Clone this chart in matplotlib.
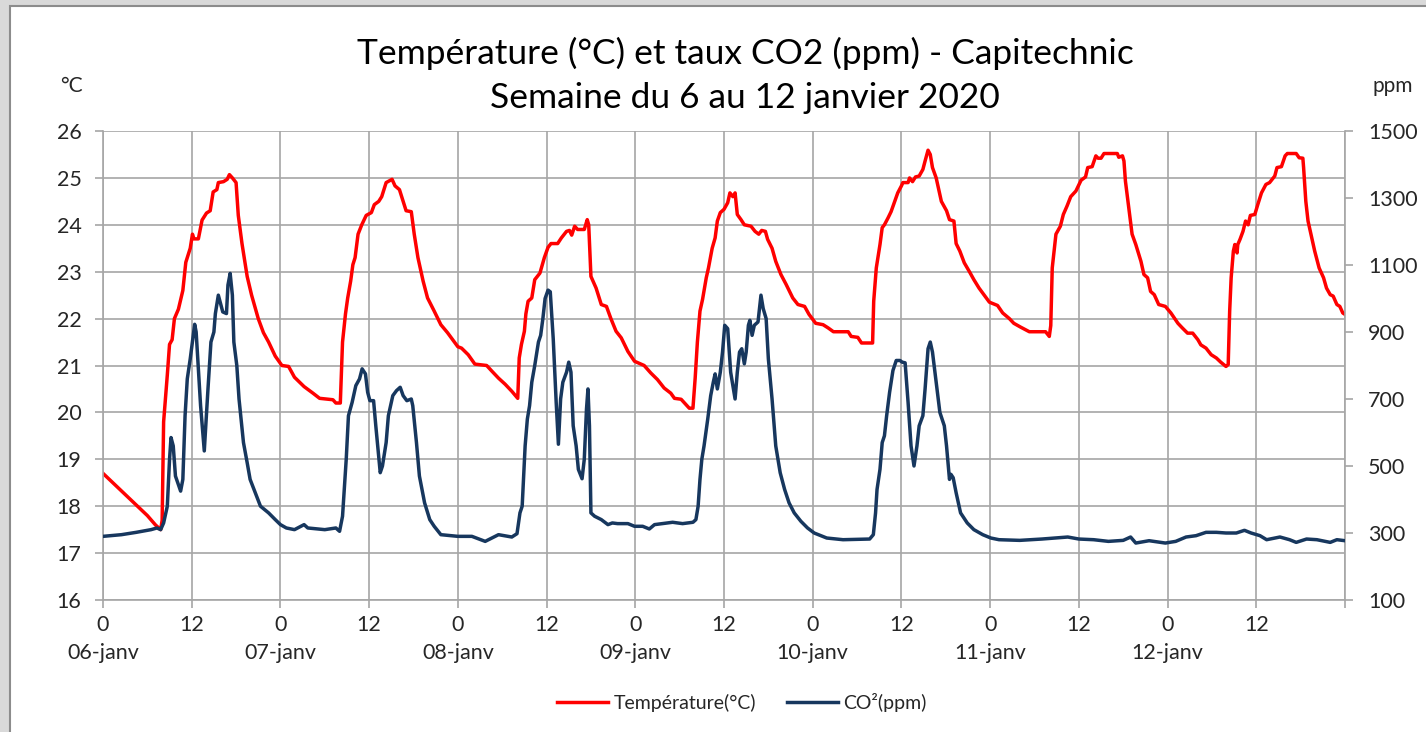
import matplotlib
matplotlib.use("Agg")
import matplotlib.pyplot as plt
from matplotlib.lines import Line2D
from matplotlib.patches import Rectangle

plt.rcParams['font.family'] = ['Lato', 'DejaVu Sans']

# heures depuis le 06-janv 0h
temp_h = [0, 1.0, 2.0, 3.0, 4.0, 5.0, 6.0, 7.1, 7.8, 8.0, 8.2, 8.7, 9.0, 9.35, 9.66, 10.2, 10.8,
          11.2, 11.8, 12.1, 12.3, 12.9, 13.4, 14.0, 14.5, 14.9, 15.4, 15.6, 16.3, 16.8, 17.1, 17.5,
          18.0, 18.3, 18.8, 19.5, 20.1, 21.0, 21.7, 22.4, 23.3, 24.2, 25.1,
          25.9, 27.2, 28.4, 29.3, 31.1, 31.5, 32.1, 32.4, 32.8, 33.1, 33.5, 33.8, 34.1, 34.5, 35.0,
          35.6, 36.3, 36.7, 37.3, 37.7, 38.3, 39.1, 39.5, 40.1, 40.6, 41.0, 41.7, 42.1, 42.6, 43.3,
          43.9, 44.8, 45.7, 46.6, 48.0,
          48.5, 49.4, 50.3, 51.9, 52.6, 53.5, 54.4, 55.3, 56.1, 56.3, 56.6, 57.0, 57.2, 57.5, 58.0,
          58.4, 59.1, 59.7, 60.2, 60.6, 61.5, 62.0, 62.7, 63.1, 63.4, 63.8, 64.2, 65.1, 65.5, 65.7,
          66.0, 66.7, 67.4, 68.1, 68.7, 69.4, 70.1, 71.0, 71.9,
          73.2, 74.1, 75.0, 75.9, 76.8, 77.3, 78.2, 78.9, 79.3, 79.8, 80.1, 80.4, 80.75, 81.1, 81.6,
          81.9, 82.4, 82.8, 83.1, 83.5, 84.0, 84.5, 84.8, 85.2, 85.5, 85.8, 86.3, 86.75, 87.65, 88.2,
          88.7, 89.1, 89.6, 89.9, 90.5, 91.0, 91.7, 92.4, 93.3, 94.0, 94.9, 95.5, 96.4,
          97.4, 98.1, 98.8, 100.8, 101.2, 102.1, 102.6, 104.1, 104.25, 104.6, 105.1, 105.4, 105.7,
          106.2, 106.6, 107.1, 107.5, 108.0, 108.2, 108.9, 109.1, 109.5, 109.9, 110.4, 110.9, 111.2,
          111.6, 111.9, 112.2, 112.7, 113.4, 114.1, 114.5, 115.1, 115.4, 115.9, 116.5, 117.2, 117.8,
          118.5, 119.2, 119.9,
          121.0, 121.7, 122.6, 123.2, 124.1, 125.3, 127.5, 128.0, 128.2, 128.4, 128.9, 129.5, 129.9,
          130.4, 130.9, 131.6, 132.3, 132.9, 133.2, 133.8, 134.3, 134.6, 135.0, 135.4, 137.2, 137.4,
          137.9, 138.1, 138.3, 138.8, 139.2, 139.7, 140.4, 140.8, 141.3, 141.7, 142.2, 142.8, 143.7,
          144.45, 145.4, 146.0, 146.7, 147.4, 148.1, 148.5, 149.2, 149.9, 150.6, 151.2, 151.9, 152.2,
          152.4, 152.6, 152.9, 153.1, 153.4, 153.5, 153.8, 154.2, 154.55, 154.9, 155.2, 155.8, 156.2,
          156.7, 157.3, 157.8, 158.5, 158.8, 159.4, 159.9, 160.2, 161.4, 161.8, 162.3, 162.4, 162.7,
          163.0, 163.5, 163.9, 164.5, 165.1, 165.5, 166.0, 166.4, 166.9, 167.3, 167.7, 168.0]

temp_c = [18.70, 18.55, 18.40, 18.25, 18.10, 17.95, 17.80, 17.60, 17.50, 17.70, 19.80, 20.80, 21.45,
          21.55, 22.00, 22.20, 22.60, 23.20, 23.50, 23.80, 23.70, 23.70, 24.10, 24.25, 24.30, 24.70,
          24.75, 24.90, 24.92, 24.97, 25.07, 25.00, 24.90, 24.20, 23.60, 22.90, 22.50, 22.00, 21.70,
          21.50, 21.20, 21.00, 20.98,
          20.75, 20.55, 20.41, 20.30, 20.27, 20.20, 20.20, 21.50, 22.10, 22.44, 22.80, 23.15, 23.30,
          23.80, 24.00, 24.20, 24.26, 24.43, 24.50, 24.60, 24.90, 24.97, 24.83, 24.75, 24.50, 24.30,
          24.28, 23.80, 23.30, 22.80, 22.44, 22.16, 21.87, 21.70, 21.40,
          21.37, 21.23, 21.03, 21.00, 20.88, 20.73, 20.60, 20.45, 20.30, 21.16, 21.45, 21.73, 22.10,
          22.37, 22.44, 22.83, 22.97, 23.30, 23.52, 23.60, 23.60, 23.72, 23.86, 23.88, 23.78, 23.97,
          23.90, 23.90, 24.11, 24.00, 22.90, 22.65, 22.30, 22.26, 22.00, 21.73, 21.59, 21.30, 21.09,
          21.00, 20.84, 20.70, 20.52, 20.41, 20.30, 20.28, 20.16, 20.09, 20.09, 20.73, 21.50, 22.16,
          22.41, 22.87, 23.08, 23.50, 23.72, 24.08, 24.26, 24.33, 24.47, 24.68, 24.60, 24.68, 24.22,
          24.11, 24.00, 23.97, 23.86, 23.80, 23.88, 23.86, 23.69, 23.50, 23.22, 22.94, 22.73, 22.44,
          22.30, 22.26, 22.09, 21.90,
          21.87, 21.80, 21.72, 21.72, 21.62, 21.60, 21.48, 21.48, 22.37, 23.08, 23.58, 23.94, 24.00,
          24.15, 24.28, 24.50, 24.68, 24.83, 24.90, 24.90, 25.00, 24.92, 25.02, 25.04, 25.18, 25.36,
          25.59, 25.50, 25.22, 25.00, 24.50, 24.30, 24.11, 24.08, 23.60, 23.44, 23.19, 23.00, 22.83,
          22.65, 22.50, 22.35,
          22.28, 22.12, 22.00, 21.90, 21.82, 21.72, 21.72, 21.62, 21.85, 23.08, 23.80, 23.97, 24.22,
          24.40, 24.60, 24.72, 24.95, 25.02, 25.22, 25.24, 25.47, 25.42, 25.42, 25.52, 25.52, 25.44,
          25.47, 25.36, 24.93, 24.30, 23.80, 23.58, 23.22, 22.94, 22.87, 22.58, 22.51, 22.30, 22.26,
          22.12, 21.90, 21.80, 21.69, 21.69, 21.55, 21.44, 21.37, 21.23, 21.16, 21.07, 20.98, 21.02,
          22.16, 22.87, 23.44, 23.58, 23.40, 23.58, 23.69, 23.86, 24.08, 24.00, 24.20, 24.22, 24.43,
          24.68, 24.86, 24.90, 25.04, 25.22, 25.24, 25.47, 25.52, 25.52, 25.43, 25.42, 25.22, 24.50,
          24.08, 23.72, 23.44, 23.08, 22.87, 22.65, 22.51, 22.48, 22.30, 22.26, 22.12, 22.09]

co2_h = [0, 2.5, 4.5, 6.5, 7.3, 7.8, 8.2, 8.7, 9.0, 9.2, 9.5, 9.8, 10.5, 10.8, 11.1, 11.4, 11.8,
         12.4, 12.6, 13.2, 13.7, 14.2, 14.6, 15.0, 15.2, 15.6, 16.2, 16.7, 16.9, 17.2, 17.5, 17.7,
         18.1, 18.4, 19.0, 19.5, 19.9, 20.6, 21.3, 22.4, 23.3, 24.0, 24.8, 25.9, 27.2, 27.7, 30.0,
         31.5, 32.0, 32.4, 32.9, 33.2, 33.7, 34.2, 34.7, 35.05, 35.5, 35.8, 36.1, 36.6, 36.9, 37.5,
         37.8, 38.3, 38.6, 39.2, 39.7, 40.2, 40.6, 41.1, 41.7, 41.9, 42.4, 42.8, 43.5, 44.2, 44.8,
         45.7, 48.0, 49.9, 51.7, 53.5, 55.3, 56.0, 56.4, 56.7, 57.1, 57.4, 57.7, 58.0, 58.4, 58.9,
         59.2, 59.5, 59.8, 60.2, 60.5, 60.9, 61.3, 61.6, 61.9, 62.2, 62.7, 63.0, 63.3, 63.6, 64.0,
         64.3, 64.8, 65.1, 65.4, 65.6, 65.8, 66.0, 66.5, 67.4, 68.3, 68.9, 69.6, 71.0, 71.9, 73.0,
         73.9, 74.6, 75.7, 77.05, 78.4, 79.8, 80.2, 80.5, 80.75, 81.0, 81.3, 81.8, 82.2, 82.55,
         82.8, 83.1, 83.5, 83.8, 84.1, 84.5, 84.9, 85.5, 85.8, 86.1, 86.4, 86.75, 87.0, 87.3, 87.5,
         87.8, 88.1, 88.6, 89.0, 89.3, 89.7, 90.0, 90.5, 91.0, 91.6, 92.2, 92.8, 93.5, 94.4, 95.3,
         96.2, 97.9, 100.1, 103.7, 104.2, 104.5, 104.7, 105.1, 105.4, 105.7, 106.0, 106.4, 106.85,
         107.3, 107.8, 108.1, 108.5, 108.9, 109.3, 109.7, 110.1, 110.4, 110.9, 111.2, 111.6, 111.9,
         112.2, 112.7, 113.2, 113.8, 114.1, 114.5, 114.7, 115.0, 115.4, 116.0, 116.9, 117.8, 119.0,
         120.1, 121.2, 124.0, 127.0, 130.5, 132.0, 134.0, 136.0, 138.0, 139.0, 139.7, 141.5, 143.7,
         145.1, 146.5, 147.85, 149.2, 150.6, 151.9, 153.3, 154.4, 155.3, 156.5, 157.4, 159.2, 160.5,
         161.4, 162.8, 164.2, 166.0, 166.9, 168.0]

co2_ppm = [290, 295, 302, 310, 315, 310, 330, 380, 520, 585, 560, 470, 425, 460, 650, 760, 820,
           923, 900, 680, 545, 730, 870, 900, 955, 1010, 960, 955, 1040, 1075, 1010, 870, 800, 700,
           570, 510, 460, 420, 380, 360, 340, 325, 315, 310, 325, 315, 310, 315, 305, 350, 520, 650,
           690, 740, 760, 790, 775, 720, 695, 695, 620, 480, 500, 570, 650, 710, 725, 735, 710, 695,
           700, 680, 570, 470, 390, 340, 320, 295, 290, 290, 275, 295, 288, 298, 360, 380, 560, 640,
           680, 750, 800, 870, 890, 940, 1000, 1025, 1020, 880, 690, 565, 700, 750, 780, 810, 780,
           620, 560, 490, 462, 520, 670, 730, 620, 360, 350, 340, 325, 330, 328, 328, 320, 320, 312,
           325, 328, 332, 328, 332, 340, 380, 460, 520, 560, 640, 710, 750, 775, 730, 780, 840, 920,
           910, 780, 700, 780, 840, 850, 805, 840, 920, 935, 890, 920, 930, 1010, 970, 940, 820, 700,
           560, 480, 430, 390, 360, 335, 315, 300, 285, 280, 282, 295, 360, 430, 490, 570, 590, 650,
           720, 785, 815, 815, 810, 808, 690, 560, 500, 560, 620, 650, 730, 850, 870, 840, 750, 660,
           620, 560, 460, 475, 465, 420, 360, 330, 310, 295, 285, 280, 278, 282, 288, 282, 280, 275,
           278, 288, 270, 277, 270, 275, 288, 292, 302, 302, 300, 300, 308, 300, 292, 280, 288, 280,
           272, 282, 280, 272, 280, 277]

hour_ticks = list(range(0, 168, 12))
hour_labels = ['0', '12'] * 7
day_labels = ['06-janv', '07-janv', '08-janv', '09-janv', '10-janv', '11-janv', '12-janv']

W, H = 1426, 732
fig = plt.figure(figsize=(W / 100, H / 100), dpi=100)
fig.patch.set_facecolor('#d9d9d9')
fig.patches.append(Rectangle((10 / W, -0.1), 1.2, 1.1 - 6 / H, transform=fig.transFigure,
                             facecolor='white', edgecolor='#8c8c8c', linewidth=1.5, zorder=-10))

grid_c = '#a6a6a6'
txt_c = '#262626'
fs = 15.5

ax = fig.add_axes([103 / W, 1 - 600 / H, 1242 / W, 469 / H])
ax.set_facecolor('none')
ax.set_xlim(0, 168)
ax.set_ylim(16, 26)
ax.set_yticks(range(16, 27))
ax.set_xticks(hour_ticks + [168])
ax.set_xticklabels(hour_labels + [''])
ax.grid(True, color=grid_c, linewidth=1.2)
ax.set_axisbelow(True)
ax.tick_params(axis='y', direction='out', length=5.5, width=1.2, color=grid_c,
               labelsize=fs, labelcolor=txt_c, pad=10)
ax.tick_params(axis='x', direction='out', length=5.5, width=1.2, color=grid_c,
               labelsize=fs, labelcolor=txt_c, pad=5)
for s in ax.spines.values():
    s.set_color(grid_c)
    s.set_linewidth(1.2)
ax.spines['top'].set_visible(False)

ax.plot(temp_h, temp_c, color='#ff0000', linewidth=2.5, solid_joinstyle='round')

ax2 = ax.twinx()
ax2.set_ylim(100, 1500)
ax2.set_yticks(range(100, 1501, 200))
ax2.tick_params(axis='y', direction='out', length=5.5, width=1.2, color=grid_c,
                labelsize=fs, labelcolor=txt_c, pad=11)
for s in ax2.spines.values():
    s.set_visible(False)
ax2.plot(co2_h, co2_ppm, color='#17375e', linewidth=2.5, solid_joinstyle='round')

for i, d in enumerate(day_labels):
    ax.text(i * 24, -0.113, d, transform=ax.get_xaxis_transform(), ha='center', va='center',
            fontsize=fs, color=txt_c)

fig.text(745 / W, 1 - 53 / H, 'Température (°C) et taux CO2 (ppm) - Capitechnic',
         ha='center', va='center', fontsize=25.5, color='black')
fig.text(745 / W, 1 - 98 / H, 'Semaine du 6 au 12 janvier 2020',
         ha='center', va='center', fontsize=25.5, color='black')
fig.text(71 / W, 1 - 86 / H, '°C', ha='center', va='center', fontsize=15, color=txt_c)
fig.text(1393 / W, 1 - 86 / H, 'ppm', ha='center', va='center', fontsize=15, color=txt_c)

handles = [Line2D([], [], color='#ff0000', linewidth=2.5),
           Line2D([], [], color='#17375e', linewidth=2.5)]
fig.legend(handles, ['Température(°C)', 'CO²(ppm)'], loc='center',
           bbox_to_anchor=(742 / W, 1 - 702 / H), ncol=2, frameon=False, fontsize=14,
           handlelength=2.6, handletextpad=0.3, columnspacing=1.6, labelcolor=txt_c)

fig.savefig('out.png', dpi=100, facecolor=fig.get_facecolor())
